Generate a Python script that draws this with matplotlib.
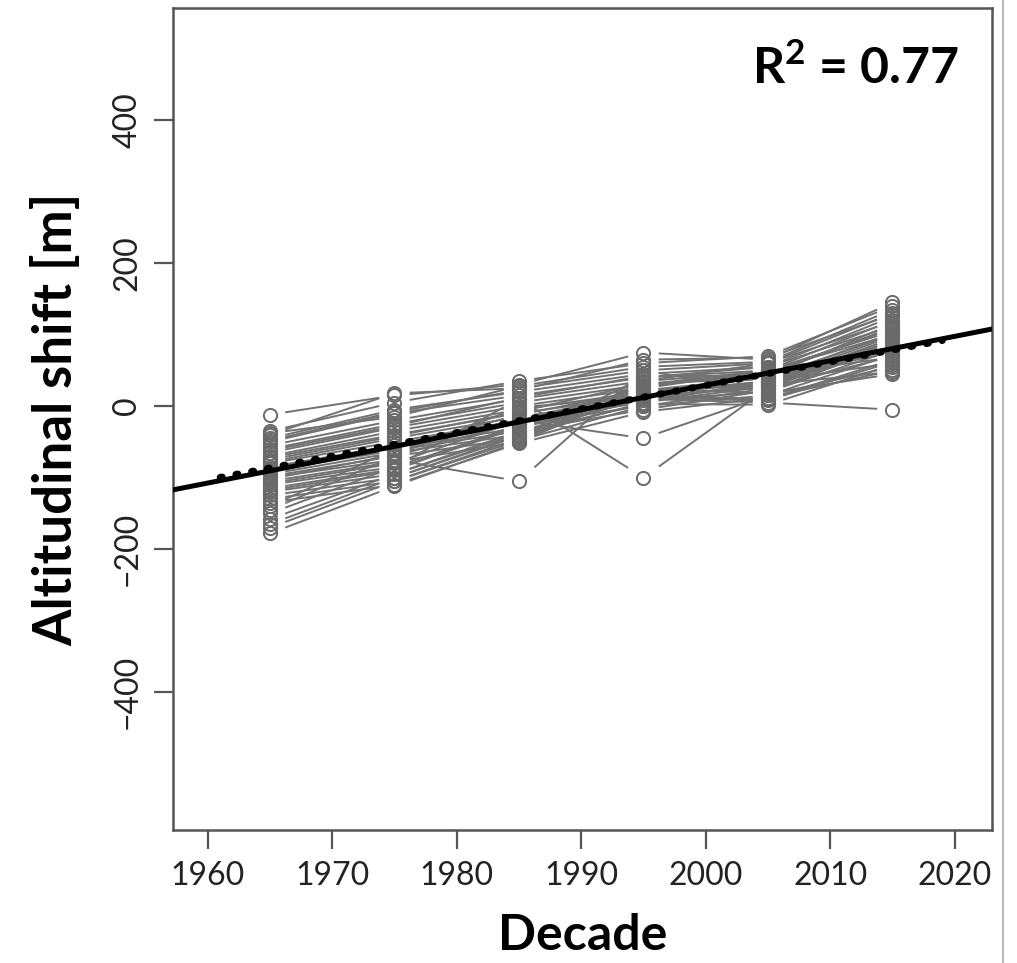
import numpy as np
import matplotlib
matplotlib.use('Agg')
import matplotlib.pyplot as plt
from matplotlib.lines import Line2D

plt.rcParams['font.family'] = ['Lato', 'DejaVu Sans']
plt.rcParams['mathtext.fontset'] = 'custom'
plt.rcParams['mathtext.bf'] = 'Lato:bold'
plt.rcParams['mathtext.rm'] = 'Lato'

decades = [1965, 1975, 1985, 1995, 2005, 2015]

# altitudinal shift [m] of each series at each decade
shifts = [
    [-12, 15, 30, 75, 65, 145],
    [-35, 5, 35, 60, 70, 140],
    [-40, 18, 25, 50, 60, 130],
    [-45, -5, 20, 45, 55, 125],
    [-50, -10, 15, 40, 50, 120],
    [-55, -20, 10, 35, 60, 118],
    [-60, -25, 5, 30, 45, 110],
    [-65, -30, 0, 25, 50, 105],
    [-70, -35, -5, 20, 40, 100],
    [-72, -40, -10, 15, 35, 98],
    [-78, -45, -15, 10, 30, 95],
    [-80, -50, -20, 5, 28, 92],
    [-85, -55, -25, 0, 25, 90],
    [-88, -60, -30, 8, 20, 88],
    [-90, -62, -35, -5, 22, 85],
    [-95, -65, -40, 12, 30, 82],
    [-98, -70, -45, 18, 35, 80],
    [-100, -75, -105, 50, 20, 78],
    [-105, -78, -50, 22, 40, 75],
    [-108, -80, -20, -45, 15, 72],
    [-110, -85, 10, -100, 25, 70],
    [-115, -88, -30, 28, 45, 68],
    [-118, -90, -25, 15, 10, 65],
    [-120, -95, -35, 10, 5, -5],
    [-125, -100, -42, 5, 35, 60],
    [-130, -105, -48, 0, 15, 55],
    [-135, -110, -52, -8, 12, 50],
    [-140, -60, -18, 20, 30, 48],
    [-145, -70, -22, 25, 18, 45],
    [-150, -85, -28, 12, 8, 62],
    [-158, -95, -38, 3, 2, 58],
    [-165, -100, -40, 30, 50, 100],
    [-170, -105, -45, 40, 55, 112],
    [-178, -112, -50, 35, 48, 108],
    [-38, -15, 28, 55, 62, 135],
    [-48, -8, 22, 65, 68, 128],
    [-62, -28, 12, 42, 42, 115],
    [-75, -42, -8, 32, 38, 102],
    [-92, -58, -12, 22, 33, 94],
    [-102, -68, -2, 14, 26, 86],
]

# fitted trends
fit_slope = 3.42
fit_at_1990 = -5.0
mixed_slope = 3.3
mixed_at_1990 = -4.0

r2_text = r'R$^{\mathbf{2}}$ = 0.77'

fig = plt.figure(figsize=(10.17, 9.63), dpi=100)
ax = fig.add_axes([0.170, 0.1381, 0.8054, 0.8536])

gap = 1.3  # years left blank next to each circle (R type="b")
for row in shifts:
    for j in range(len(decades) - 1):
        x0, x1 = decades[j], decades[j + 1]
        y0, y1 = row[j], row[j + 1]
        t0 = gap / (x1 - x0)
        t1 = 1 - t0
        ax.plot([x0 + t0 * (x1 - x0), x0 + t1 * (x1 - x0)],
                [y0 + t0 * (y1 - y0), y0 + t1 * (y1 - y0)],
                color='#727272', lw=1.4, zorder=2)
    ax.plot(decades, row, linestyle='none', marker='o', ms=9.5,
            mfc='none', mec='#6a6a6a', mew=1.4, zorder=3)

xs = np.array([1957.2, 2023.0])
ax.plot(xs, fit_slope * (xs - 1990) + fit_at_1990, color='black', lw=3.6, zorder=5)
xd = np.array([1961.0, 2019.0])
ax.plot(xd, mixed_slope * (xd - 1990) + mixed_at_1990, color='black', lw=5,
        linestyle=(0, (0.3, 2.0)), dash_capstyle='round', zorder=4)

ax.set_xlim(1957.2, 2023.0)
ax.set_ylim(-593, 557)
ax.set_xticks([1960, 1970, 1980, 1990, 2000, 2010, 2020])
ax.set_yticks([-400, -200, 0, 200, 400])
ax.tick_params(axis='both', length=14, width=1.6, color='#555555',
               labelsize=23, labelcolor='#222222', pad=8)
for lab in ax.get_yticklabels():
    lab.set_rotation(90)
    lab.set_va('center')
for s in ax.spines.values():
    s.set_color('#555555')
    s.set_linewidth(1.8)

ax.set_xlabel('Decade', fontsize=36, fontweight='bold', labelpad=16)
ax.set_ylabel('Altitudinal shift [m]', fontsize=38, fontweight='bold', labelpad=22)
ax.text(0.96, 0.927, r2_text, transform=ax.transAxes, ha='right', va='center',
        fontsize=36, fontweight='bold')

fig.add_artist(Line2D([0.986, 0.986], [0, 1], color='#bbbbbb', lw=1.5))

fig.savefig('out.png', dpi=100)
plt.close(fig)
